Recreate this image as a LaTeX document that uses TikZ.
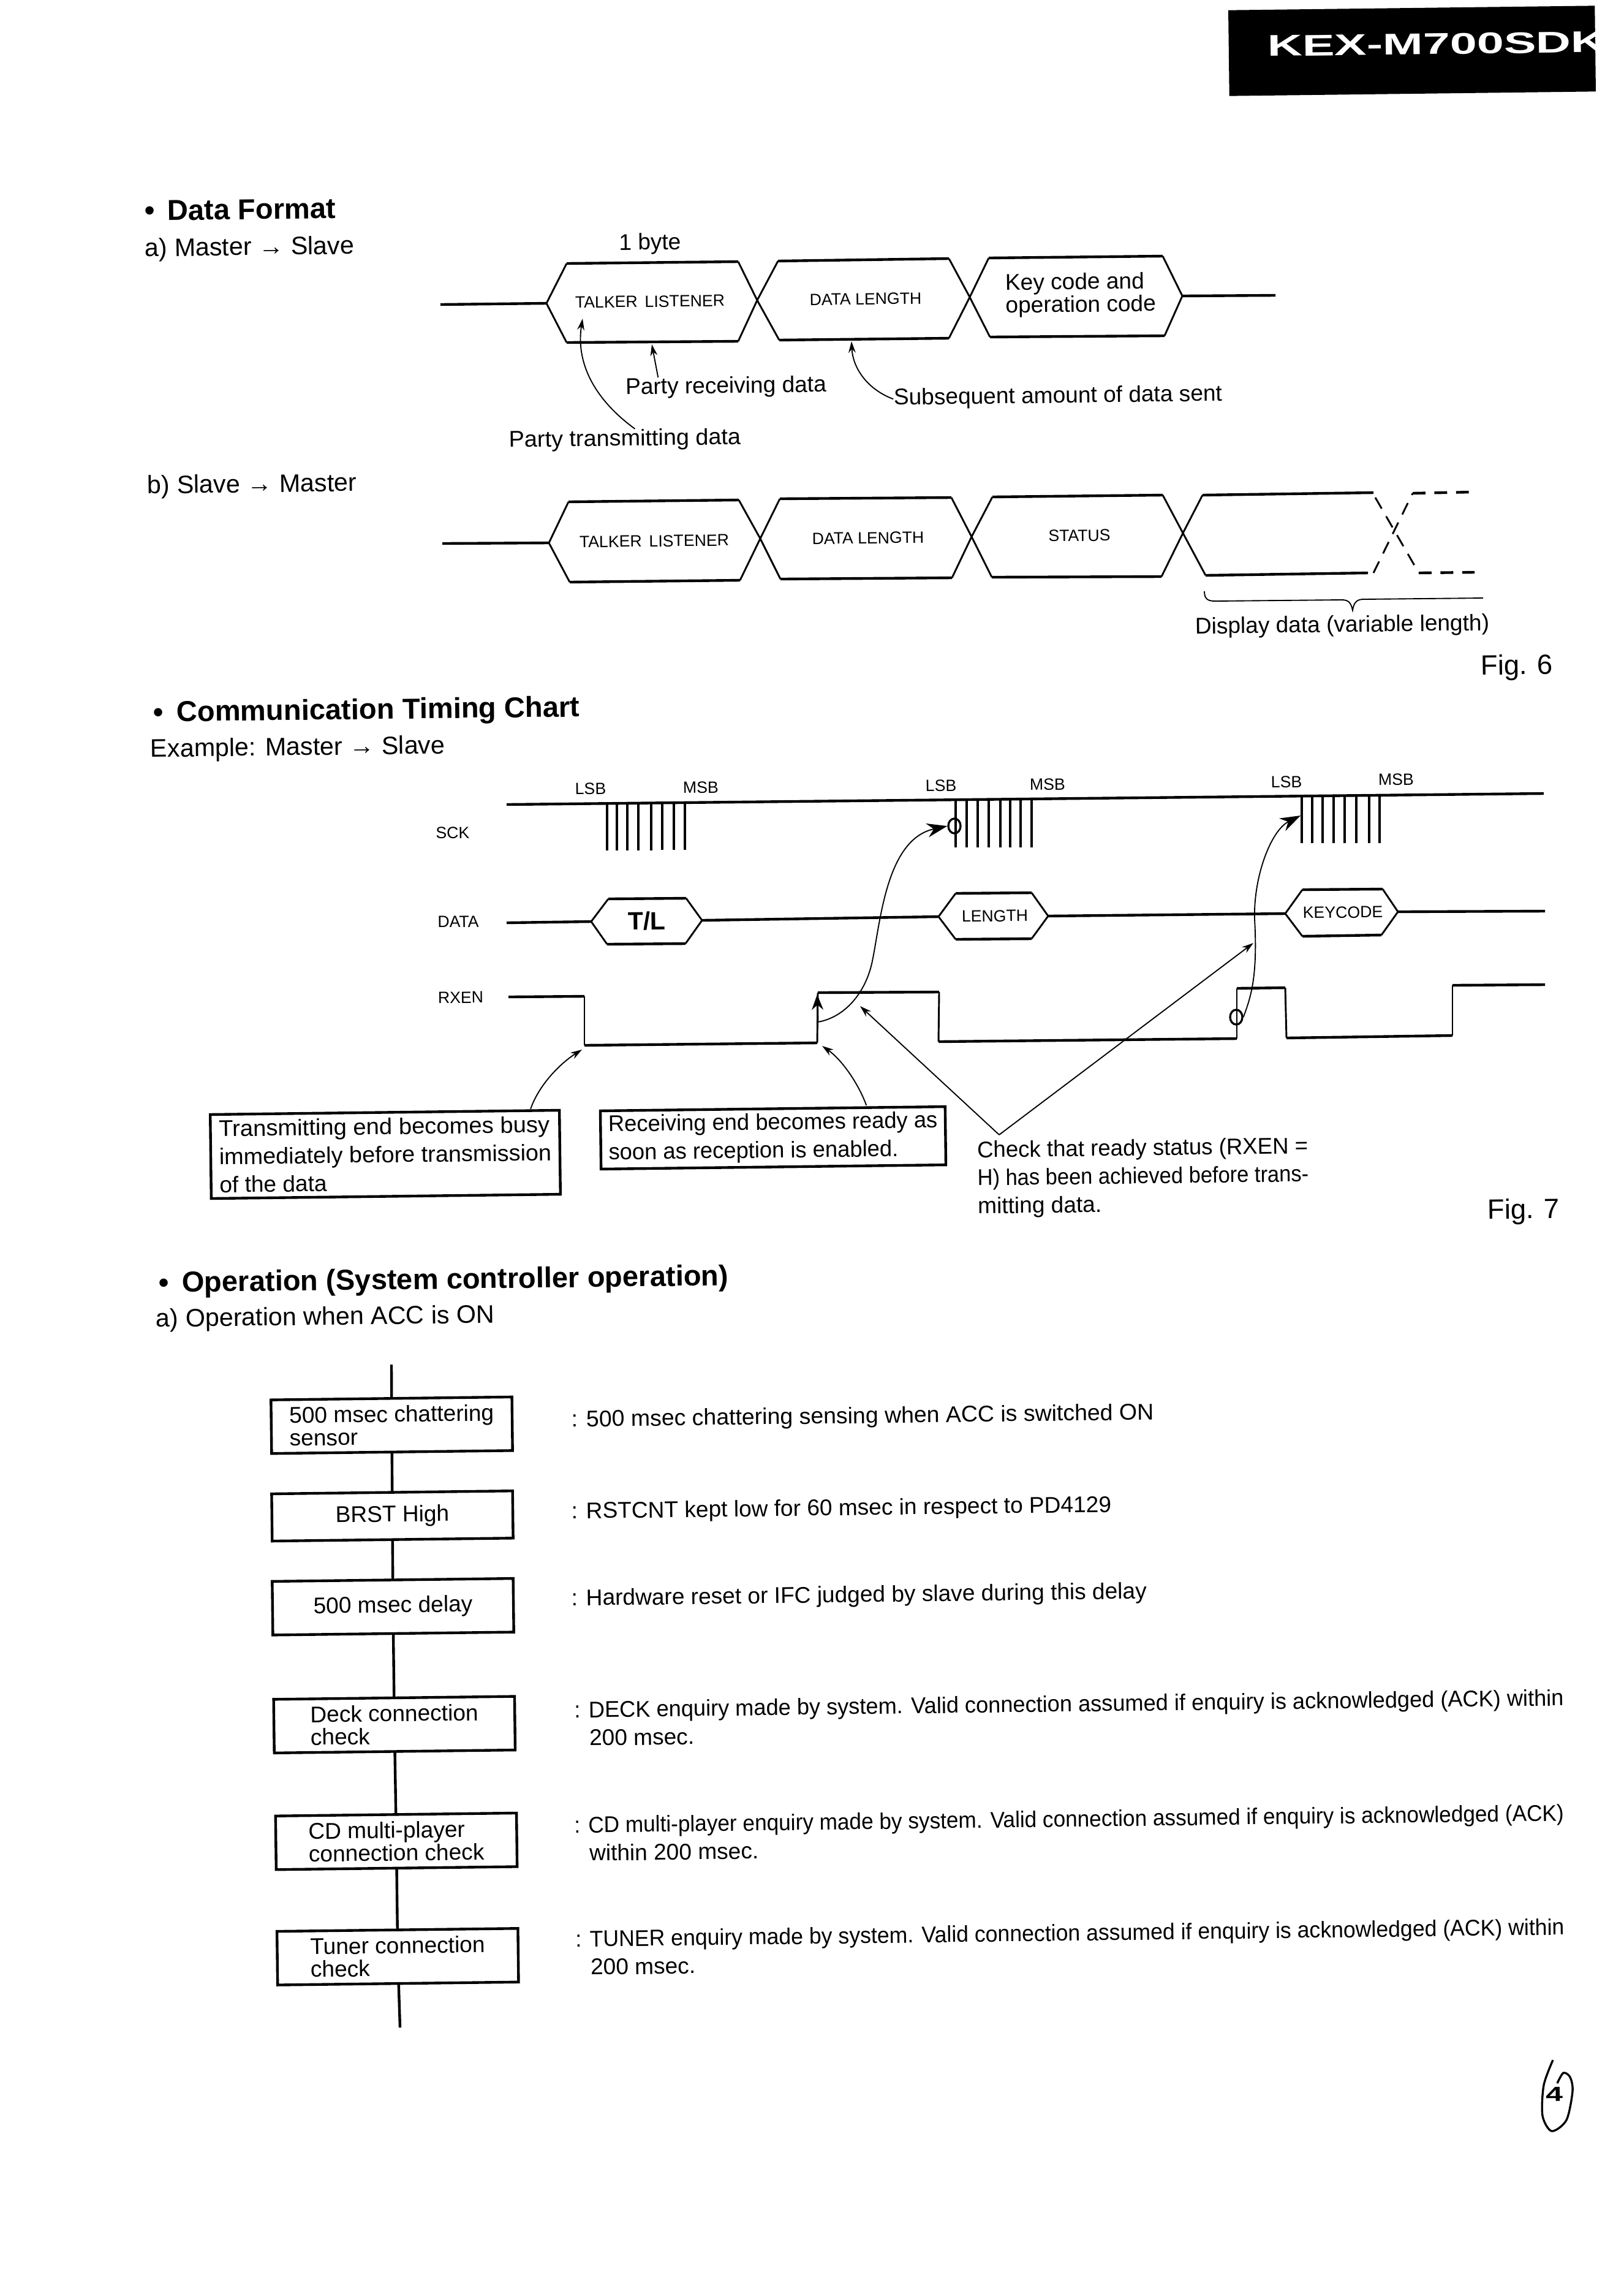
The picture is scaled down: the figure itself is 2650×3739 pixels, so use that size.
\documentclass[tikz,border=0pt]{standalone}
\usepackage{fontspec}
\setmainfont{Liberation Sans}
\usetikzlibrary{arrows,arrows.meta,positioning,shapes.geometric}
\newcommand{\buscell}[6]{\draw[sigedge] #1 -- #2 #3 -- #4 -- #5 #6 -- #1; \draw[sigln] #2 -- #3 #6 -- #5;}

\begin{document}
\begin{tikzpicture}[>=stealth', x=.24pt, y=-.24pt,
	every node/.style={rotate=.7,inner sep=0pt},
	sigln/.style={line width=1.05pt},
	sigedge/.style={line width=.7pt},
	clockln/.style={line width=.8pt},
	lead/.style={line width=.45pt},
	bigtip/.style={line width=.45pt,-{Stealth[length=8pt,width=5.5pt]}},
	midtip/.style={line width=.45pt,-{Stealth[length=4.5pt,width=2.8pt]}},
	txt/.style={font=\fontsize{8.9}{11}\selectfont,align=left},
	subhead/.style={font=\fontsize{9.9}{11}\selectfont,anchor=west},
	txttight/.style={font=\fontsize{8.9}{8.9}\selectfont,align=left},
	small/.style={font=\fontsize{6.4}{7}\selectfont},
	head/.style={font=\fontsize{11.3}{13}\selectfont\bfseries,anchor=west},
	fig/.style={font=\fontsize{10.9}{12}\selectfont},
	flowbox/.style={draw,line width=1.05pt,outer sep=0pt,minimum width=94.4pt,minimum height=21pt,font=\fontsize{8.9}{8.9}\selectfont,align=left},
	ckmark/.style={ellipse,draw,line width=.8pt,minimum width=4.8pt,minimum height=5.8pt},
	]
	\useasboundingbox (0,0) rectangle (2650,3739);

	\node[fill=black,minimum width=143.6pt,minimum height=33.6pt] (hdr) at (2305,83) {};
	\node[anchor=west,text=white,font=\fontsize{11.7}{13}\selectfont\bfseries] (hdrTxt) at (2068,75) {\scalebox{1.62}[1]{KEX-M700SDK}};

	\node[head] (hData) at (235,344) {\textbullet\ \,Data Format};
	\node[subhead] (aLbl) at (236,408) {a) Master → Slave};
	\node[subhead] (bLbl) at (240,795) {b) Slave → Master};

	% row a
	\draw[sigln] (719,497) -- (892,495);
	\buscell{(892,495)}{(925,430)}{(1205,427)}{(1236,490)}{(1205,557)}{(925,559)}
	\buscell{(1236,490)}{(1270,426)}{(1549,422)}{(1583,485)}{(1549,552)}{(1272,555)}
	\buscell{(1583,485)}{(1614,421)}{(1898,418)}{(1930,483)}{(1901,548)}{(1616,550)}
	\draw[sigln] (1930,483) -- (2082,482);
	\node[txt] (byte) at (1061,398) {1 byte};
	\node[small] (aTL) at (1061,492) {TALKER\, LISTENER};
	\node[small] (aLen) at (1413,488) {DATA LENGTH};
	\node[txttight] (aKey) at (1764,481) {Key code and\\operation code};
	\node[txt] (lblTx) at (1020,718) {\scalebox{1.02}[1]{Party transmitting data}};
	\node[txt] (lblRx) at (1185,632) {Party receiving data};
	\node[txt] (lblAmt) at (1727,648) {Subsequent amount of data sent};
	\coordinate (tipTx) at (951,520);
	\coordinate (tipRx) at (1064,562);
	\coordinate (tipAmt) at (1390,557);
	\draw[midtip] ([xshift=4pt]lblTx.north) .. controls (968,650) and (940,590) .. (tipTx);
	\draw[midtip] ([xshift=13pt]lblRx.north west) -- (tipRx);
	\draw[midtip] (lblAmt.west) .. controls (1415,635) and (1392,600) .. (tipAmt);

	% row b
	\draw[sigln] (722,887) -- (896,886);
	\buscell{(896,886)}{(928,819)}{(1206,816)}{(1241,879)}{(1208,947)}{(930,950)}
	\buscell{(1241,879)}{(1273,814)}{(1553,812)}{(1586,876)}{(1554,943)}{(1274,945)}
	\buscell{(1586,876)}{(1620,811)}{(1898,808)}{(1931,870)}{(1896,941)}{(1619,942)}
	\draw[sigedge] (1931,870) -- (1963,808) (1931,870) -- (1968,939);
	\draw[sigln] (1963,808) -- (2242,804) (1968,939) -- (2233,935);
	\draw[sigedge,dash pattern=on 5pt off 3.5pt] (2245,812) -- (2316,935) (2242,935) -- (2306,805);
	\draw[sigln,dash pattern=on 5pt off 3.5pt] (2306,805) -- (2405,803) (2316,935) -- (2407,934);
	\node[small] (bTL) at (1068,883) {TALKER\, LISTENER};
	\node[small] (bLen) at (1417,878) {DATA LENGTH};
	\node[small] (bSts) at (1762,874) {STATUS};
	\node[txt] (lblDisp) at (2191,1022) {Display data (variable length)};
	\draw[lead] (1966,965) .. controls (1966,978) and (1972,981) .. (1984,981) -- (2190,979) .. controls (2200,979) and (2205,982) .. (2208,996) .. controls (2210,982) and (2216,978) .. (2226,978) -- (2421,976);
	\node[fig] (fig6) at (2476,1089) {Fig. 6};

	\node[head] (hTim) at (250,1166) {\textbullet\ \,Communication Timing Chart};
	\node[subhead] (exLbl) at (245,1225) {Example: Master → Slave};

	% timing
	\node[small] (sckLbl) at (739,1359) {SCK};
	\node[small] (dataLbl) at (748,1504) {DATA};
	\node[small] (rxLbl) at (752,1628) {RXEN};
	\draw[sigln] (827,1313) -- (2520,1295);
	\draw[clockln] (991,1312) -- (991,1388) (1007,1312) -- (1007,1388) (1024,1312) -- (1024,1388) (1042,1311) -- (1042,1388) (1063,1311) -- (1063,1388) (1081,1311) -- (1081,1387) (1100,1310) -- (1100,1387) (1118,1310) -- (1118,1387);
	\draw[clockln] (1560,1305) -- (1560,1383) (1578,1305) -- (1578,1383) (1596,1305) -- (1596,1383) (1614,1305) -- (1614,1383) (1633,1304) -- (1633,1383) (1649,1304) -- (1649,1383) (1666,1304) -- (1666,1383) (1684,1304) -- (1684,1383);
	\draw[clockln] (2125,1300) -- (2125,1376) (2142,1300) -- (2142,1376) (2159,1300) -- (2159,1376) (2177,1300) -- (2177,1376) (2195,1299) -- (2195,1376) (2214,1299) -- (2214,1376) (2235,1299) -- (2235,1376) (2252,1298) -- (2252,1376);
	\node[small] (lsbA) at (964,1287) {LSB};
	\node[small] (msbA) at (1144,1285) {MSB};
	\node[small] (lsbB) at (1536,1282) {LSB};
	\node[small] (msbB) at (1710,1280) {MSB};
	\node[small] (lsbC) at (2100,1276) {LSB};
	\node[small] (msbC) at (2279,1272) {MSB};

	\draw[sigln] (827,1506) -- (965,1504);
	\buscell{(965,1504)}{(993,1467)}{(1120,1466)}{(1146,1502)}{(1119,1540)}{(991,1541)}
	\draw[sigln] (1146,1502) -- (1532,1496);
	\buscell{(1532,1496)}{(1560,1458)}{(1684,1457)}{(1711,1495)}{(1684,1532)}{(1560,1533)}
	\draw[sigln] (1711,1495) -- (2098,1491);
	\buscell{(2098,1491)}{(2126,1452)}{(2257,1451)}{(2282,1488)}{(2255,1526)}{(2126,1528)}
	\draw[sigln] (2282,1488) -- (2522,1487);
	\node[font=\fontsize{9.8}{11}\selectfont\bfseries] (tl) at (1056,1503) {T/L};
	\node[small] (len) at (1624,1495) {LENGTH};
	\node[small] (key) at (2192,1489) {KEYCODE};

	\draw[sigln] (830,1627) -- (954,1626);
	\draw[sigedge] (954,1626) -- (954,1706);
	\draw[sigln] (954,1706) -- (1334,1702);
	\draw[sigedge] (1334,1702) -- (1335,1620);
	\draw[sigln] (1335,1620) -- (1533,1619);
	\draw[sigedge] (1533,1619) -- (1532,1700);
	\draw[sigln] (1532,1700) -- (2019,1695);
	\draw[sigedge] (2019,1695) -- (2019,1613);
	\draw[sigln] (2019,1613) -- (2098,1612);
	\draw[sigedge] (2098,1612) -- (2100,1694);
	\draw[sigln] (2100,1694) -- (2371,1690);
	\draw[sigedge] (2371,1690) -- (2371,1608);
	\draw[sigln] (2371,1608) -- (2522,1607);

	\node[ckmark] (ckA) at (1558,1348) {};
	\node[ckmark] (ckB) at (2018,1660) {};
	\coordinate (rxRise) at (1335,1668);
	\coordinate (rxTop) at (1334,1623);
	\coordinate (tipC) at (2123,1331);
	\draw[bigtip] (rxRise) .. controls (1380,1660) and (1412,1620) .. (1423,1573) .. controls (1437,1510) and (1445,1370) .. (ckA.west);
	\draw[bigtip] (ckB.east) .. controls (2043,1625) and (2053,1590) .. (2048,1500) .. controls (2046,1430) and (2075,1355) .. (tipC);
	\draw[-{Stealth[length=6pt,width=4.5pt]},sigedge] (rxRise) -- (rxTop);

	% notes below chart
	\node[draw,sigln,minimum width=136.8pt,minimum height=32.9pt,txt] (boxTx) at (629,1884) {\scalebox{1.03}[1]{Transmitting end becomes busy}\\\scalebox{1.02}[1]{immediately before transmission}\\of the data};
	\node[draw,sigln,minimum width=135.1pt,minimum height=22.8pt,txt] (boxRx) at (1262,1857) {\scalebox{.98}[1]{Receiving end becomes ready as}\\\scalebox{.98}[1]{soon as reception is enabled.}};
	\node[txt] (lblChk) at (1866,1922) {\scalebox{.987}[1]{Check that ready status (RXEN =}\\\scalebox{.93}[1]{H) has been achieved before trans-}\\mitting data.};
	\coordinate (chkApex) at (1631,1852);
	\coordinate (tipBusy) at (950,1713);
	\coordinate (tipReady) at (1342,1707);
	\coordinate (tipChkA) at (1404,1642);
	\coordinate (tipChkB) at (2046,1539);
	\draw[midtip] ([xshift=-11.8pt]boxTx.north east) .. controls (880,1770) and (915,1735) .. (tipBusy);
	\draw[midtip] ([xshift=-31.4pt]boxRx.north east) .. controls (1402,1770) and (1375,1730) .. (tipReady);
	\draw[midtip] (chkApex) -- (tipChkA);
	\draw[midtip] (chkApex) -- (tipChkB);
	\node[fig] (fig7) at (2487,1977) {Fig. 7};

	\node[head] (hOp) at (259,2097) {\textbullet\ \,Operation (System controller operation)};
	\node[subhead] (opLbl) at (254,2155) {a) Operation when ACC is ON};

	% flow
	\coordinate (fTop) at (639,2227);
	\node[flowbox] (fbA) at (639.5,2326) {500 msec chattering\\sensor};
	\node[flowbox,minimum height=18.5pt] (fbB) [below=15.8pt of fbA] {BRST High};
	\node[flowbox] (fbC) [below=15.8pt of fbB] {500 msec delay};
	\node[flowbox,xshift=.3pt] (fbD) [below=25.2pt of fbC] {Deck connection\\check};
	\node[flowbox,xshift=.5pt] (fbE) [below=24.7pt of fbD] {CD multi-player\\connection check};
	\node[flowbox,xshift=.3pt] (fbF) [below=24.2pt of fbE] {Tuner connection\\check};
	\coordinate (fEnd) at (653,3309);

	\path[sigln]
	(fTop) edge (fbA)
	(fbA) edge (fbB)
	(fbB) edge (fbC)
	(fbC) edge (fbD)
	(fbD) edge (fbE)
	(fbE) edge (fbF)
	(fbF) edge (fEnd)
	;

	\node[txt,anchor=west] (noteA) at (932,2319) {\scalebox{1.01}[1]{: 500 msec chattering sensing when ACC is switched ON}};
	\node[txt,anchor=west] (noteB) at (932,2469) {: RSTCNT kept low for 60 msec in respect to PD4129};
	\node[txt,anchor=west] (noteC) at (932,2611) {: Hardware reset or IFC judged by slave during this delay};
	\node[txt,anchor=west] (noteD) at (937,2813) {\scalebox{.976}[1]{: DECK enquiry made by system. Valid connection assumed if enquiry is acknowledged (ACK) within}\\\phantom{: }200 msec.};
	\node[txt,anchor=west] (noteE) at (937,3001) {\scalebox{.949}[1]{: CD multi-player enquiry made by system. Valid connection assumed if enquiry is acknowledged (ACK)}\\\phantom{: }within 200 msec.};
	\node[txt,anchor=west] (noteF) at (939,3187) {\scalebox{.961}[1]{: TUNER enquiry made by system. Valid connection assumed if enquiry is acknowledged (ACK) within}\\\phantom{: }200 msec.};

	% page mark
	\node[font=\fontsize{8}{9}\selectfont\bfseries] (pageNo) at (2537,3418) {\scalebox{1.5}[1]{4}};
	\draw[line width=.8pt] plot[smooth] coordinates {(2535,3362) (2520,3403) (2518,3453) (2533,3478) (2557,3460) (2567,3413) (2563,3390) (2552,3383) (2542,3400)};
\end{tikzpicture}
\end{document}
